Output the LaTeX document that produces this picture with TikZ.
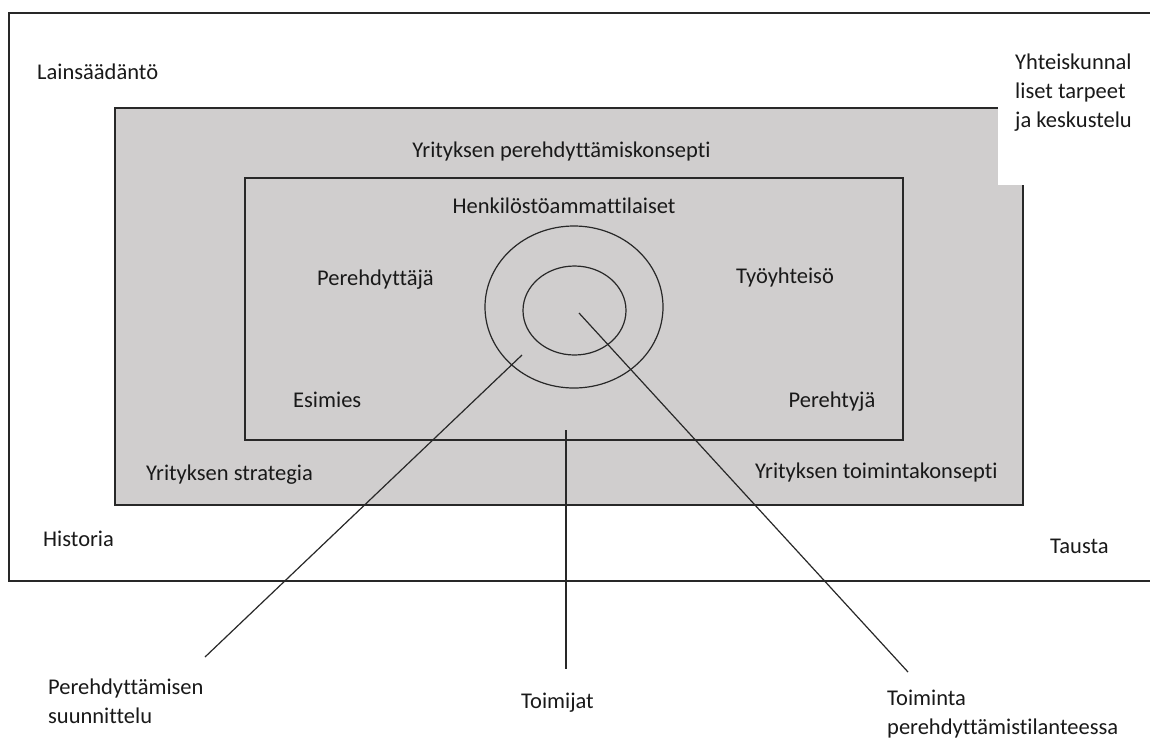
\documentclass[tikz,border=0pt]{standalone}
\usepackage{fontspec}
\setmainfont{Carlito}[Ligatures={NoCommon}]
\usetikzlibrary{shapes.geometric}
\definecolor{boxgray}{RGB}{208,206,206}
\definecolor{linecol}{RGB}{40,40,40}
\tikzset{
  lbl/.style={inner sep=0pt, font=\fontsize{22.5}{29}\selectfont, text=black!90},
  frame/.style={draw=linecol, line width=1.4pt},
  conn/.style={draw=linecol, line width=1.2pt},
  ring/.style={draw=linecol, line width=1.2pt, ellipse, inner sep=0pt},
}
\begin{document}
\begin{tikzpicture}[x=1pt,y=-1pt]
\useasboundingbox (0,0) rectangle (1150,740);
\clip (0,0) rectangle (1150,740);
\fill[white] (0,0) rectangle (1150,740);
% outer frame (open to the right)
\draw[frame] (1160,13) -- (9,13) -- (9,581) -- (1160,581);
% gray box
\path[frame, fill=boxgray] (115,108) rectangle (1023,505);
% white overlay top-right
\fill[white] (998,18) rectangle (1155,185);
% inner rectangle
\draw[frame] (245,178) rectangle (903,440);
% circles
\node[ring, minimum width=178pt, minimum height=162pt] (outer) at (574,307) {};
\node[ring, minimum width=103pt, minimum height=89pt] (inner) at (574.5,310.5) {};
% labels
\node[lbl, anchor=west] (lain) at (37,72) {Lainsäädäntö};
\node[lbl, anchor=west, align=left] (yht) at (1015,93) {Yhteiskunnal\\liset tarpeet\\ja keskustelu};
\node[lbl] (ypk) at (561.5,151) {Yrityksen perehdyttämiskonsepti};
\node[lbl] (henk) at (564,206) {Henkilöstöammattilaiset};
\node[lbl, anchor=west] (pere) at (317,280) {Perehdyttäjä};
\node[lbl] (tyo) at (785,277) {Työyhteisö};
\node[lbl, anchor=west] (esim) at (293,400) {Esimies};
\node[lbl] (pehty) at (832,402) {Perehtyjä};
\node[lbl, anchor=west] (strat) at (146,475) {Yrityksen strategia};
\node[lbl, anchor=west] (toimk) at (755,472) {Yrityksen toimintakonsepti};
\node[lbl, anchor=west] (hist) at (43,539) {Historia};
\node[lbl, anchor=west] (taus) at (1050,546) {Tausta};
\node[lbl, anchor=west, align=left] (psuun) at (48,701) {Perehdyttämisen\\suunnittelu};
\node[lbl] (toimij) at (557.5,703) {Toimijat};
\node[lbl, anchor=west, align=left] (toimin) at (887,714) {Toiminta\\perehdyttämistilanteessa};
% connector end points
\coordinate (c1s) at (522,355);
\coordinate (c1e) at (205,657);
\coordinate (c2s) at (566,430);
\coordinate (c2e) at (566,669);
\coordinate (c3s) at (579,313);
\coordinate (c3e) at (908,672);
\draw[conn] (c1s) -- (c1e);
\draw[conn] (c2s) -- (c2e);
\draw[conn] (c3s) -- (c3e);
\end{tikzpicture}
\end{document}
